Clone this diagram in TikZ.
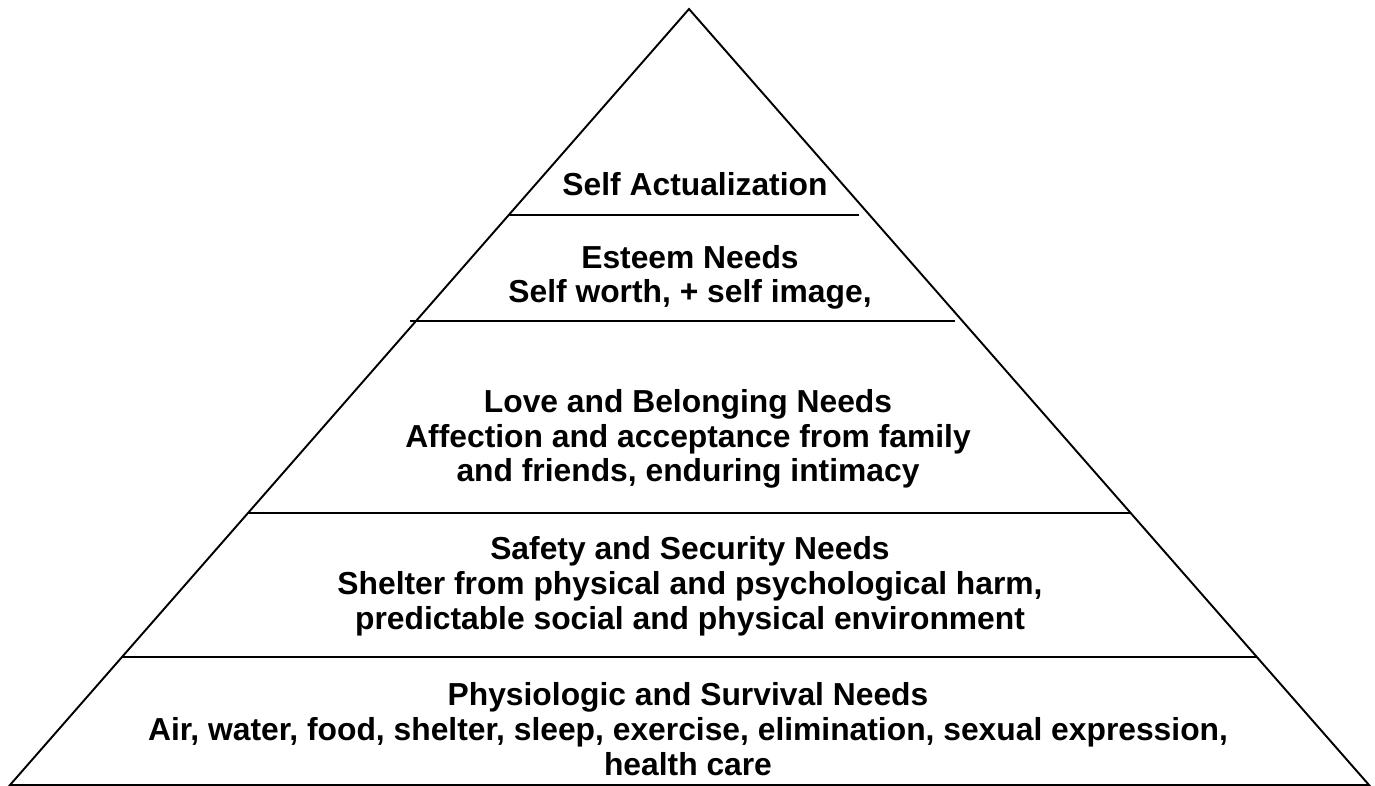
\documentclass[tikz,border=0pt]{standalone}
\usepackage{fontspec}
\setmainfont{Liberation Sans}
\usepackage{tikz}

\begin{document}
\begin{tikzpicture}[
    x = 0.02cm, y = -0.02cm, % one unit per pixel, y downwards
    line width = 1.1pt, % line style
    line join = miter
]
\tikzstyle{tier}=[
    align = center,
    anchor = base, % base of the last line
    inner sep = 0pt,
    font = \bfseries\fontsize{18.1}{19.8}\selectfont
]

\useasboundingbox (0,0) rectangle (1375,786);

% corners of the pyramid
\coordinate (apex) at (689,9);
\coordinate (bl) at (10,785);
\coordinate (br) at (1369,785);

% ends of the dividing lines
\coordinate (a1) at (508,215);
\coordinate (a2) at (859,215);
\coordinate (b1) at (410,321);
\coordinate (b2) at (955,321);
\coordinate (c1) at (248,513);
\coordinate (c2) at (1130,513);
\coordinate (d1) at (122,657);
\coordinate (d2) at (1256,657);

\draw (bl) -- (apex) -- (br) -- cycle;
\draw (a1) -- (a2);
\draw (b1) -- (b2);
\draw (c1) -- (c2);
\draw (d1) -- (d2);

\node[tier] (self) at (695,196) {Self Actualization};
\node[tier] (esteem) at (690,303) {Esteem Needs\\Self worth, + self image,};
\node[tier] (love) at (688,482) {Love and Belonging Needs\\Affection and acceptance from family\\and friends, enduring intimacy};
\node[tier] (safety) at (690,629) {Safety and Security Needs\\Shelter from physical and psychological harm,\\predictable social and physical environment};
\node[tier] (physio) at (688,775) {Physiologic and Survival Needs\\Air, water, food, shelter, sleep, exercise, elimination, sexual expression,\\health care};

\end{tikzpicture}
\end{document}
